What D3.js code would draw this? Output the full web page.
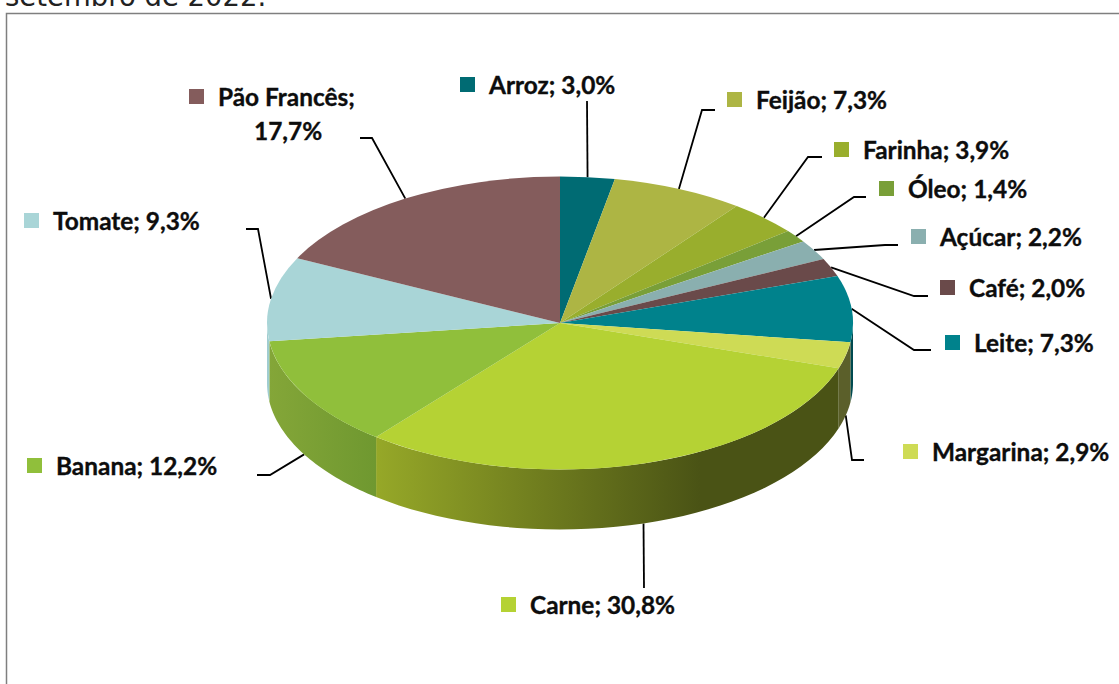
<!DOCTYPE html>
<html>
<head>
<meta charset="utf-8">
<script src="https://cdn.jsdelivr.net/npm/d3@7"></script>
<style>
  html, body { margin: 0; padding: 0; background: #fff; overflow: hidden; }
  svg { display: block; }
  .label { font-family: Lato, sans-serif; font-weight: 700; font-size: 24.4px; fill: #0d0d0d; stroke: #0d0d0d; stroke-width: 0.35; }
  .caption { font-family: "DejaVu Sans", sans-serif; font-size: 27.5px; fill: #222; }
</style>
</head>
<body>
<div id="chart"></div>
<script>
const categories = ['Arroz', 'Feijão', 'Farinha', 'Óleo', 'Açúcar', 'Café', 'Leite', 'Margarina', 'Carne', 'Banana', 'Tomate', 'Pão Francês'];
const shares = [3.0, 7.3, 3.9, 1.4, 2.2, 2.0, 7.3, 2.9, 30.8, 12.2, 9.3, 17.7];
const sliceColors = ['#006b73', '#adb544', '#99ae2d', '#799f38', '#8aafaf', '#6a4a4a', '#00828c', '#cedb55', '#b5d234', '#90bf3b', '#a9d5d7', '#845c5c'];
// wall shading, left and right colour of each slice's gradient
const wallColors = [null, null, null, null, null, null, ['#004a50', '#004a50'], ['#5b5f2a', '#5b5f2a'], ['#96a828', '#4a5315'], ['#84a638', '#6f9830'], ['#a0cdd0', '#a0cdd0'], null];

// swatch corner, text position, elbow points of each leader
const labelX = [460, 727, 834, 879, 911, 940, 945, 903, 501, 27, 24, 189];
const labelY = [77, 92, 142, 181, 229, 280, 335, 444, 597, 458, 213, 89];
const leaderPoints = [
  [[587, 101]],
  [[702, 110], [715, 110]],
  [[808, 157], [822, 157]],
  [[854, 197], [866, 197]],
  [[885, 245], [898, 245]],
  [[914, 296], [928, 296]],
  [[914, 350], [931, 350]],
  [[852, 460], [864, 460]],
  [[644, 588]],
  [[270, 475], [257, 475]],
  [[258, 229], [246, 229]],
  [[372, 138], [360, 138]]
];

const width = 1119, height = 684;
const cx = 560, cy = 323, rx = 293, ry = 146.5, depth = 60;

const svg = d3.select('#chart').append('svg')
  .attr('width', width)
  .attr('height', height);

svg.append('text')
  .attr('class', 'caption')
  .attr('x', 5)
  .attr('y', 6)
  .text('setembro de 2022.');

svg.append('rect')
  .attr('x', 6.5)
  .attr('y', 13.5)
  .attr('width', 1120)
  .attr('height', 700)
  .attr('fill', '#fff')
  .attr('stroke', '#7f7f7f')
  .attr('stroke-width', 1.5);

const slices = d3.pie().sort(null).value(d => d)(shares);
slices.forEach((d, i) => { d.i = i; });

const px = a => cx + rx * Math.sin(a);
const py = a => cy - ry * Math.cos(a);

// leaders go under the pie
const leaderLine = d3.line();
svg.append('g').selectAll('path')
  .data(slices)
  .join('path')
  .attr('d', d => {
    const mid = (d.startAngle + d.endAngle) / 2;
    const front = Math.cos(mid) < 0;
    return leaderLine([[px(mid), py(mid) + (front ? depth : 0)], ...leaderPoints[d.i]]);
  })
  .attr('fill', 'none')
  .attr('stroke', '#000')
  .attr('stroke-width', 1.8);

// side walls, only where the rim faces the viewer
const defs = svg.append('defs');
const walls = slices.filter(d => wallColors[d.i]);
walls.forEach(d => {
  const grad = defs.append('linearGradient').attr('id', `wall-${d.i}`);
  grad.append('stop').attr('offset', '0%').attr('stop-color', wallColors[d.i][0]);
  grad.append('stop').attr('offset', d.i === 8 ? '70%' : '100%').attr('stop-color', wallColors[d.i][1]);
  if (d.i === 8) grad.append('stop').attr('offset', '100%').attr('stop-color', wallColors[d.i][1]);
});

const wallPath = (a0, a1) => {
  const steps = d3.range(0, 41).map(k => a0 + (a1 - a0) * k / 40);
  const rim = steps.map(a => [px(a), py(a)]);
  const base = steps.slice().reverse().map(a => [px(a), py(a) + depth]);
  return d3.line()(rim.concat(base)) + 'Z';
};

// Leite and Tomate cross the sides, so clamp to the front half of the rim
svg.append('g').selectAll('path')
  .data(walls)
  .join('path')
  .attr('d', d => wallPath(Math.max(d.startAngle, Math.PI / 2), Math.min(d.endAngle, Math.PI * 1.5)))
  .attr('fill', d => `url(#wall-${d.i})`);

// top face: a circular pie squashed to an ellipse
const arc = d3.arc().innerRadius(0).outerRadius(rx);
svg.append('g')
  .attr('transform', `translate(${cx},${cy}) scale(1,${ry / rx})`)
  .selectAll('path')
  .data(slices)
  .join('path')
  .attr('d', arc)
  .attr('fill', d => sliceColors[d.i]);

// labels
const labels = svg.append('g').selectAll('g')
  .data(slices)
  .join('g')
  .attr('transform', d => `translate(${labelX[d.i]},${labelY[d.i]})`);

labels.append('rect')
  .attr('width', 15)
  .attr('height', 15)
  .attr('fill', d => sliceColors[d.i]);

const pct = v => v.toFixed(1).replace('.', ',') + '%';

labels.append('text')
  .attr('class', 'label')
  .attr('x', 29)
  .attr('y', 17)
  .text(d => d.i === 11 ? `${categories[d.i]};` : `${categories[d.i]}; ${pct(shares[d.i])}`);

labels.filter(d => d.i === 11).append('text')
  .attr('class', 'label')
  .attr('x', 65)
  .attr('y', 51)
  .text(d => pct(shares[d.i]));
</script>
</body>
</html>
